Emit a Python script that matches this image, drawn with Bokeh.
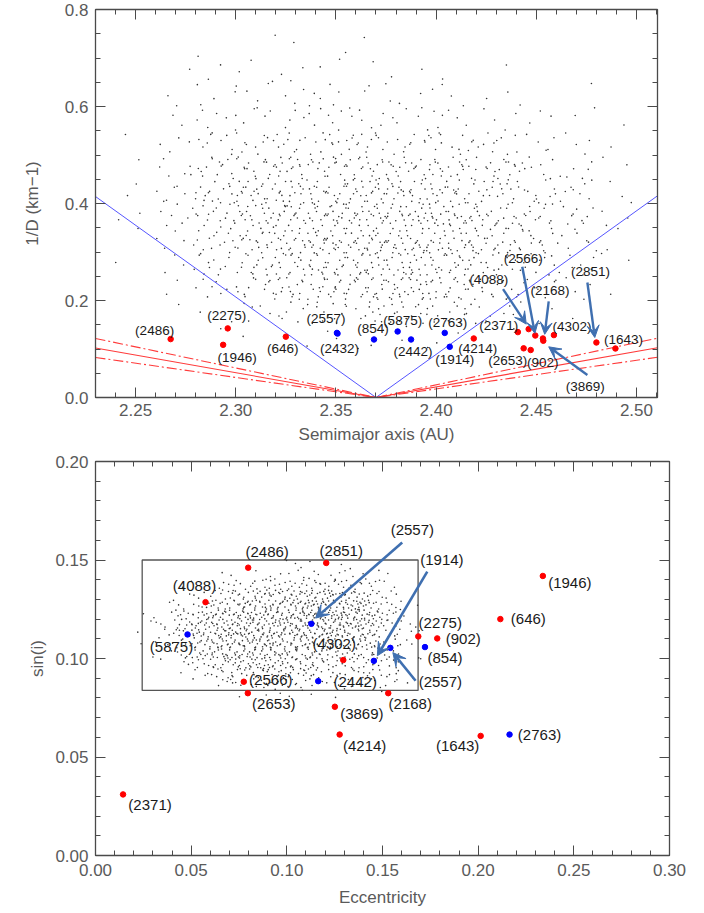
from bokeh.plotting import figure
from bokeh.layouts import column
from bokeh.models import (LinearAxis, Range1d, NumeralTickFormatter, CustomJSTickFormatter,
                          Arrow, VeeHead, ColumnDataSource, FixedTicker)
from bokeh.embed import file_html
from bokeh.resources import INLINE
from bokeh.core.properties import value

# ---------------- upper panel: semimajor axis vs 1/D ----------------
top_ids = ["2486", "2275", "1946", "646", "2557", "2432", "854", "5875", "2442", "2763", "1914",
           "4214", "2371", "4088", "2566", "2168", "902", "2653", "3869", "4302", "2851", "1643"]
top_a = [2.2675, 2.2960, 2.2937, 2.3250, 2.3505, 2.3508, 2.3690, 2.3808, 2.3875, 2.4043, 2.4068,
         2.4188, 2.4408, 2.4462, 2.4495, 2.4533, 2.4472, 2.4437, 2.4535, 2.4588, 2.4800, 2.4895]
top_invd = [0.1204, 0.1425, 0.1086, 0.1254, 0.1332, 0.1318, 0.1196, 0.1361, 0.1196, 0.1332, 0.1045,
            0.1217, 0.1348, 0.1410, 0.1278, 0.1217, 0.0979, 0.1014, 0.1170, 0.1287, 0.1134, 0.1010]
top_group = ["r", "r", "r", "r", "b", "b", "b", "b", "b", "b", "b",
             "r", "r", "r", "r", "r", "r", "r", "r", "r", "r", "r"]
top_xticks = [2.25, 2.30, 2.35, 2.40, 2.45, 2.50]
top_yticks = [0.0, 0.2, 0.4, 0.6, 0.8]

# V-shaped size boundaries centred on the family centre
v_center = 2.37
v_slope_blue = 2.96
v_slopes_red = [0.73, 0.87, 0.59]

# field asteroids: counts per cell (a from 2.24 by 0.02, rows of 1/D from 0.75 down by 0.05)
top_cloud_counts = [
    [0, 0, 1, 1, 1, 1, 1, 0, 0, 0, 0, 0, 0],
    [0, 1, 2, 3, 3, 2, 2, 1, 1, 1, 0, 0, 0],
    [0, 2, 4, 4, 5, 4, 4, 3, 3, 2, 1, 1, 0],
    [0, 2, 6, 6, 6, 7, 6, 6, 5, 4, 3, 2, 1],
    [1, 4, 9, 10, 11, 12, 12, 11, 10, 9, 6, 4, 1],
    [1, 6, 13, 16, 18, 18, 18, 18, 16, 14, 9, 6, 2],
    [2, 7, 15, 20, 22, 23, 23, 22, 20, 17, 12, 8, 3],
    [2, 7, 15, 21, 24, 26, 26, 26, 24, 19, 14, 9, 3],
    [1, 5, 13, 19, 24, 26, 28, 26, 24, 19, 14, 8, 2],
    [1, 4, 11, 17, 22, 24, 26, 26, 23, 17, 12, 7, 2],
    [0, 2, 7, 13, 18, 22, 24, 24, 20, 13, 9, 4, 1],
    [0, 1, 2, 5, 8, 12, 14, 14, 12, 6, 3, 1, 0],
    [0, 0, 1, 1, 1, 2, 3, 3, 2, 1, 1, 0, 0],
]

# ---------------- lower panel: eccentricity vs sin(i) ----------------
bot_ids = ["2557", "1914", "2557", "4302", "2442", "2851", "1946", "646", "2275", "902", "854",
           "2168", "3869", "4214", "1643", "2763", "2486", "4088", "5875", "2566", "2653", "2371"]
bot_e = [0.1128, 0.1455, 0.1541, 0.1295, 0.1164, 0.1206, 0.2338, 0.2116, 0.1687, 0.1786, 0.1722,
         0.1530, 0.1251, 0.1276, 0.2013, 0.2164, 0.0798, 0.0575, 0.0481, 0.0775, 0.0796, 0.0144]
bot_sini = [0.1176, 0.0988, 0.1054, 0.0992, 0.0885, 0.1485, 0.1419, 0.1200, 0.1112, 0.1102, 0.1058,
            0.0824, 0.0755, 0.0614, 0.0607, 0.0614, 0.1461, 0.1286, 0.1122, 0.0882, 0.0824, 0.0310]
bot_group = ["b", "b", "b", "r", "b", "r", "r", "r", "r", "r", "b",
             "r", "r", "r", "r", "b", "r", "r", "b", "r", "r", "r"]
bot_xticks = [0.00, 0.05, 0.10, 0.15, 0.20, 0.25, 0.30]
bot_yticks = [0.00, 0.05, 0.10, 0.15, 0.20]

# family box in (e, sin i)
box_e = [0.0244, 0.1686]
box_sini = [0.0838, 0.1500]

# family members: counts per cell (e from 0.02 by 0.01, rows of sin i from 0.15 down by 0.005)
bot_cloud_counts = [
    [0, 0, 0, 0, 0, 0, 1, 1, 2, 1, 1, 1, 0, 0, 0],
    [0, 0, 0, 0, 1, 1, 2, 3, 3, 3, 3, 3, 2, 1, 0],
    [0, 0, 1, 1, 3, 4, 6, 6, 7, 7, 7, 6, 4, 2, 0],
    [0, 0, 1, 3, 6, 9, 9, 10, 11, 12, 12, 10, 7, 3, 0],
    [0, 1, 3, 6, 9, 12, 12, 13, 14, 15, 15, 13, 10, 4, 1],
    [1, 2, 6, 9, 12, 13, 13, 14, 15, 16, 16, 15, 12, 6, 1],
    [1, 3, 7, 11, 13, 14, 14, 14, 15, 16, 16, 15, 12, 6, 2],
    [1, 3, 7, 12, 14, 14, 14, 14, 14, 15, 15, 13, 10, 6, 2],
    [1, 3, 6, 10, 13, 14, 14, 13, 13, 13, 12, 11, 9, 6, 2],
    [0, 2, 4, 9, 12, 13, 13, 12, 12, 11, 9, 8, 9, 6, 1],
    [0, 1, 2, 6, 9, 10, 12, 12, 10, 9, 6, 6, 7, 5, 1],
    [0, 0, 1, 3, 6, 8, 9, 9, 9, 7, 5, 5, 6, 4, 1],
    [0, 0, 0, 1, 3, 4, 6, 6, 6, 4, 3, 3, 4, 3, 1],
    [0, 0, 0, 0, 0, 1, 1, 2, 2, 1, 1, 1, 1, 0, 0],
]

# ---------------- styling ----------------
GROUP_COLORS = {"r": "#ff0000", "b": "#0000ff"}
ARROW_COLOR = "#3f6fb0"
AXIS_COLOR = "#4a4a4a"
AXIS_TEXT = "#5a5a5a"
TICK_FONT = "Liberation Sans"
TEXT_FONT = "Liberation Sans"

# label offsets from each point, screen px (x right, y down)
top_dx = [-16, -1, 14, -3, -11, 2, -1, 5, 2, 3, 5, 4, -19, -40, -12, 7, 12, -16, 42, 18, -6, 8]
top_dy = [-9, -13, 13, 12, -14, 15, -11, -11, 12, -10, 13, 10, -7, -50, -77, -48, 12, 12, 46, -9, -71, -9]
bot_dx = [101, 68, 50, -9, 37, 15, 27, 28, 22, 26, 20, 22, 27, 25, -23, 30, 19, -11, -16, 27, 26, 27]
bot_dy = [-94, -101, 34, -17, 0, -12, 7, -1, -14, 0, 10, 10, 7, 11, 10, 0, -16, -17, 12, -2, 10, 10]

# arrows: (label index, tail x, tail y, tip x, tip y)
top_arrows = [(13, 2.4334, 0.2235, 2.4450, 0.1513),
              (14, 2.4430, 0.2695, 2.4493, 0.1324),
              (15, 2.4562, 0.1980, 2.4542, 0.1303),
              (20, 2.4755, 0.2371, 2.4792, 0.1237),
              (18, 2.4755, 0.0462, 2.4562, 0.1045)]
bot_arrows = [(0, 0.1603, 0.1589, 0.1150, 0.1205),
              (1, 0.1734, 0.1441, 0.1473, 0.1014),
              (2, 0.1673, 0.0887, 0.1554, 0.1030)]


def halton(i, base):
    f, r = 1.0, 0.0
    while i > 0:
        f /= base
        r += f * (i % base)
        i //= base
    return r


def spread_cells(x0, dx, y_top, dy, counts):
    """Place each cell's count of dots inside the cell along a permuted Halton 2/3 sequence."""
    xs, ys = [], []
    k = 0
    for r, row in enumerate(counts):
        ylo = y_top - (r + 1) * dy
        for c, n in enumerate(row):
            xlo = x0 + c * dx
            for _ in range(n):
                k += 1
                idx = (k * 7919) % 104729 + 1
                xs.append(xlo + halton(idx, 2) * dx)
                ys.append(ylo + halton(idx, 3) * dy)
    return xs, ys


def minor_between(ticks, n):
    major = ticks[1] - ticks[0]
    step = major / n
    lo = ticks[0] - major
    count = int(round((ticks[-1] - ticks[0] + 2 * major) / step)) + 1
    return [round(lo + j * step, 6) for j in range(count)]


def style_axes(p, xticks, xminor, yticks, yminor, xfmt, yfmt, xlab, ylab,
               xstand, xlabstand, ylabstand):
    xt = FixedTicker(ticks=xticks, minor_ticks=minor_between(xticks, xminor))
    yt = FixedTicker(ticks=yticks, minor_ticks=minor_between(yticks, yminor))
    p.xaxis.ticker = xt
    p.yaxis.ticker = yt
    p.xaxis.formatter = NumeralTickFormatter(format=xfmt)
    p.yaxis.formatter = NumeralTickFormatter(format=yfmt)
    p.xaxis.axis_label = xlab
    p.yaxis.axis_label = ylab
    p.xaxis.major_label_standoff = xstand
    p.xaxis.axis_label_standoff = xlabstand
    p.yaxis.major_label_standoff = 7
    p.yaxis.axis_label_standoff = ylabstand
    blank = CustomJSTickFormatter(code="return ''")
    p.add_layout(LinearAxis(ticker=xt, formatter=blank, major_label_standoff=0), "above")
    p.add_layout(LinearAxis(ticker=yt, formatter=blank, major_label_standoff=0), "right")
    for ax in p.axis:
        ax.axis_line_color = AXIS_COLOR
        ax.axis_line_width = 1.3
        ax.major_tick_line_color = AXIS_COLOR
        ax.minor_tick_line_color = AXIS_COLOR
        ax.major_tick_in = 10
        ax.major_tick_out = 0
        ax.minor_tick_in = 5
        ax.minor_tick_out = 0
        ax.major_label_text_font = TICK_FONT
        ax.major_label_text_font_size = "17px"
        ax.major_label_text_color = AXIS_TEXT
        ax.axis_label_text_font = TICK_FONT
        ax.axis_label_text_font_size = "17px"
        ax.axis_label_text_font_style = "normal"
        ax.axis_label_text_color = AXIS_TEXT
    p.xgrid.visible = False
    p.ygrid.visible = False
    p.outline_line_color = AXIS_COLOR


def labelled_points(p, xs, ys, ids, groups, dx, dy, fsize):
    src = ColumnDataSource(dict(x=xs, y=ys, t=["(%s)" % s for s in ids],
                                c=[GROUP_COLORS[g] for g in groups], dx=dx, dy=dy))
    p.scatter("x", "y", source=src, size=5.5, fill_color="c", line_color="c")
    p.text("x", "y", text="t", source=src, x_offset="dx", y_offset="dy",
           text_align="center", text_baseline="middle", text_color="#1a1a1a",
           text_font=value(TEXT_FONT), text_font_size=fsize)


# ---------------- upper figure ----------------
p1 = figure(frame_width=562, frame_height=388, output_backend="svg", toolbar_location=None,
            x_range=Range1d(2.23, 2.5105), y_range=Range1d(0.0, 0.8),
            min_border_left=95, min_border_right=47, min_border_top=9, min_border_bottom=55)
style_axes(p1, top_xticks, 5, top_yticks, 4, "0.00", "0.0", "Semimajor axis (AU)",
           "1/D (km\u22121)", 6, 6, 20)

cx, cy = spread_cells(2.24, 0.02, 0.75, 0.05, top_cloud_counts)
p1.scatter(cx, cy, size=1.6, color="#333333", line_color=None)

x_lo, x_hi = p1.x_range.start, p1.x_range.end
p1.line([x_lo, v_center, x_hi], [v_slope_blue * (v_center - x_lo), 0, v_slope_blue * (x_hi - v_center)],
        line_color="#5555ff", line_width=1)
for i, s in enumerate(v_slopes_red):
    p1.line([x_lo, v_center, x_hi], [s * (v_center - x_lo), 0, s * (x_hi - v_center)],
            line_color="#ff3b3b", line_width=1.1, line_dash="solid" if i == 0 else "10 3 2 3")

labelled_points(p1, top_a, top_invd, top_ids, top_group, top_dx, top_dy, "13.5px")
for _, x0, y0, x1, y1 in top_arrows:
    p1.add_layout(Arrow(x_start=x0, y_start=y0, x_end=x1, y_end=y1, line_color=ARROW_COLOR,
                        line_width=2.4, end=VeeHead(size=12, fill_color=ARROW_COLOR,
                                                    line_color=ARROW_COLOR)))

# ---------------- lower figure ----------------
p2 = figure(frame_width=574, frame_height=394, output_backend="svg", toolbar_location=None,
            x_range=Range1d(0.0, 0.30), y_range=Range1d(0.0, 0.20),
            min_border_left=90, min_border_right=40, min_border_top=9, min_border_bottom=58)
style_axes(p2, bot_xticks, 5, bot_yticks, 5, "0.00", "0.00", "Eccentricity", "sin(i)", 8, 9, 5)

p2.quad(left=[box_e[0]], right=[box_e[1]], bottom=[box_sini[0]], top=[box_sini[1]],
        fill_color=None, line_color="#555555", line_width=1.3)
bx, by = spread_cells(0.02, 0.01, 0.15, 0.005, bot_cloud_counts)
p2.scatter(bx, by, size=1.6, color="#333333", line_color=None)

labelled_points(p2, bot_e, bot_sini, bot_ids, bot_group, bot_dx, bot_dy, "15px")
for _, x0, y0, x1, y1 in bot_arrows:
    p2.add_layout(Arrow(x_start=x0, y_start=y0, x_end=x1, y_end=y1, line_color=ARROW_COLOR,
                        line_width=2.6, end=VeeHead(size=13, fill_color=ARROW_COLOR,
                                                    line_color=ARROW_COLOR)))

layout = column(p1, p2, spacing=0)
open("out.html", "w").write(file_html(layout, INLINE))
